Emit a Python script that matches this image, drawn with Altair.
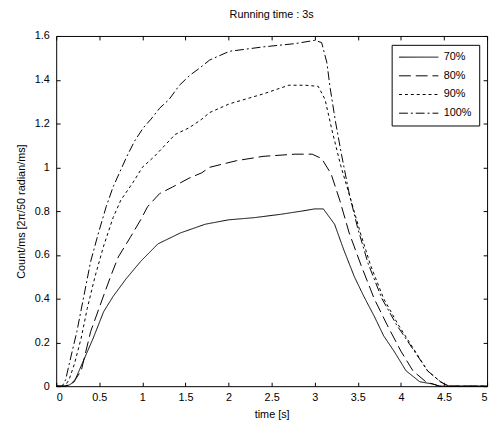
import altair as alt
import pandas as pd

FONT = "Liberation Sans"

labels = ["70%", "80%", "90%", "100%"]

t70 = [0, 0.1, 0.15, 0.21, 0.32, 0.43, 0.55, 0.66, 0.81, 0.98, 1.18, 1.44, 1.73, 2.0, 2.3,
       2.6, 2.85, 3.0, 3.1, 3.23, 3.34, 3.46, 3.57, 3.69, 3.80, 3.92, 4.06, 4.22, 4.37, 4.45, 5.0]
v70 = [0, 0, 0.005, 0.02, 0.12, 0.22, 0.34, 0.41, 0.49, 0.57, 0.65, 0.70, 0.74, 0.76, 0.77,
       0.785, 0.80, 0.81, 0.81, 0.74, 0.62, 0.50, 0.41, 0.32, 0.23, 0.16, 0.07, 0.02, 0.01, 0, 0]

t80 = [0, 0.1, 0.17, 0.22, 0.29, 0.40, 0.51, 0.63, 0.72, 0.86, 0.98, 1.06, 1.20, 1.35, 1.54,
       1.69, 1.78, 2.09, 2.4, 2.77, 2.97, 3.08, 3.19, 3.29, 3.40, 3.54, 3.69, 3.84, 4.0, 4.14,
       4.29, 4.45, 5.0]
v80 = [0, 0, 0.01, 0.03, 0.07, 0.25, 0.37, 0.50, 0.59, 0.68, 0.76, 0.82, 0.88, 0.91, 0.95,
       0.975, 1.0, 1.03, 1.05, 1.06, 1.06, 1.04, 0.97, 0.85, 0.70, 0.55, 0.40, 0.28, 0.16, 0.07,
       0.02, 0, 0]

t90 = [0, 0.1, 0.15, 0.21, 0.29, 0.36, 0.45, 0.55, 0.66, 0.75, 0.89, 1.0, 1.14, 1.26, 1.38,
       1.54, 1.69, 1.78, 2.01, 2.4, 2.7, 2.89, 3.04, 3.12, 3.20, 3.30, 3.42, 3.53, 3.65, 3.80,
       3.97, 4.14, 4.31, 4.46, 4.56, 5.0]
v90 = [0, 0, 0.03, 0.10, 0.22, 0.355, 0.50, 0.64, 0.77, 0.85, 0.93, 1.0, 1.05, 1.10, 1.15,
       1.18, 1.22, 1.25, 1.29, 1.335, 1.375, 1.375, 1.37, 1.31, 1.17, 1.01, 0.85, 0.70, 0.55, 0.40,
       0.28, 0.175, 0.07, 0.02, 0, 0]

t100 = [0, 0.07, 0.11, 0.15, 0.24, 0.32, 0.40, 0.49, 0.58, 0.66, 0.74, 0.82, 0.91, 1.01, 1.10,
        1.20, 1.31, 1.43, 1.55, 1.67, 1.78, 2.01, 2.4, 2.77, 3.0, 3.08, 3.14, 3.18, 3.24, 3.31,
        3.40, 3.50, 3.62, 3.78, 3.95, 4.13, 4.31, 4.46, 4.55, 5.0]
v100 = [0, 0, 0.03, 0.10, 0.25, 0.41, 0.57, 0.70, 0.82, 0.91, 0.98, 1.05, 1.12, 1.18, 1.22,
        1.27, 1.31, 1.375, 1.42, 1.455, 1.49, 1.53, 1.55, 1.565, 1.58, 1.57, 1.48, 1.36, 1.21, 1.06,
        0.88, 0.72, 0.56, 0.40, 0.28, 0.175, 0.07, 0.02, 0, 0]

x_ticks = [0, 0.5, 1, 1.5, 2, 2.5, 3, 3.5, 4, 4.5, 5]
y_ticks = [0, 0.2, 0.4, 0.6, 0.8, 1.0, 1.2, 1.4, 1.6]
dashes = [[1, 0], [12, 5], [3, 3], [9, 3, 2, 3]]

rows = []
for lab, ts, vs in zip(labels, [t70, t80, t90, t100], [v70, v80, v90, v100]):
    for i, (t, v) in enumerate(zip(ts, vs)):
        rows.append({"series": lab, "t": t, "v": v, "i": i})
df = pd.DataFrame(rows)

xscale = alt.Scale(domain=[0, 5], nice=False, zero=False)
yscale = alt.Scale(domain=[0, 1.6], nice=False)

base = alt.Chart(df)

lines = base.mark_line(color="black", strokeWidth=1).encode(
    x=alt.X("t:Q", scale=xscale,
            axis=alt.Axis(orient="bottom", values=x_ticks, format="~g", title="time [s]",
                          offset=-4, tickSize=4, domain=False, grid=False,
                          labelPadding=6, titlePadding=6)),
    y=alt.Y("v:Q", scale=yscale,
            axis=alt.Axis(orient="left", values=y_ticks, format="~g",
                          title="Count/ms [2π/50 radian/ms]",
                          offset=-4, tickSize=4, domain=False, grid=False,
                          labelPadding=7, titlePadding=8)),
    strokeDash=alt.StrokeDash(
        "series:N",
        scale=alt.Scale(domain=labels, range=dashes),
        legend=alt.Legend(title=None, orient="none", legendX=341, legendY=9,
                          fillColor="white", strokeColor="black", padding=7,
                          symbolType="M-1,0H7", symbolSize=100, symbolStrokeWidth=1,
                          symbolStrokeColor="black", labelOffset=35, rowPadding=7,
                          labelFont=FONT, labelFontSize=11, labelColor="black")),
    order="i:Q",
)

frame = base.mark_line(opacity=0).encode(
    x=alt.X("t:Q", scale=xscale,
            axis=alt.Axis(orient="top", values=x_ticks, labels=False, title=None,
                          offset=-4, tickSize=4, domain=False, grid=False)),
    y=alt.Y("v:Q", scale=yscale,
            axis=alt.Axis(orient="right", values=y_ticks, labels=False, title=None,
                          offset=-4, tickSize=4, domain=False, grid=False)),
    detail="series:N",
    order="i:Q",
)

chart = alt.layer(lines, frame).resolve_axis(x="independent", y="independent").properties(
    width=438,
    height=356,
    autosize=alt.AutoSizeParams(type="none"),
    padding={"left": 49, "top": 25, "right": 5, "bottom": 35},
    title=alt.TitleParams("Running time : 3s", font=FONT, fontSize=11, fontWeight="normal",
                          color="black", anchor="middle", baseline="alphabetic", offset=1),
).configure_view(stroke="black", strokeWidth=1).configure_axis(
    labelFont=FONT, labelFontSize=11, labelColor="black",
    titleFont=FONT, titleFontSize=11, titleFontWeight="normal", titleColor="black",
    tickColor="black", tickWidth=1,
)

chart.save("out.html", embed_options={"renderer": "svg", "actions": False})
